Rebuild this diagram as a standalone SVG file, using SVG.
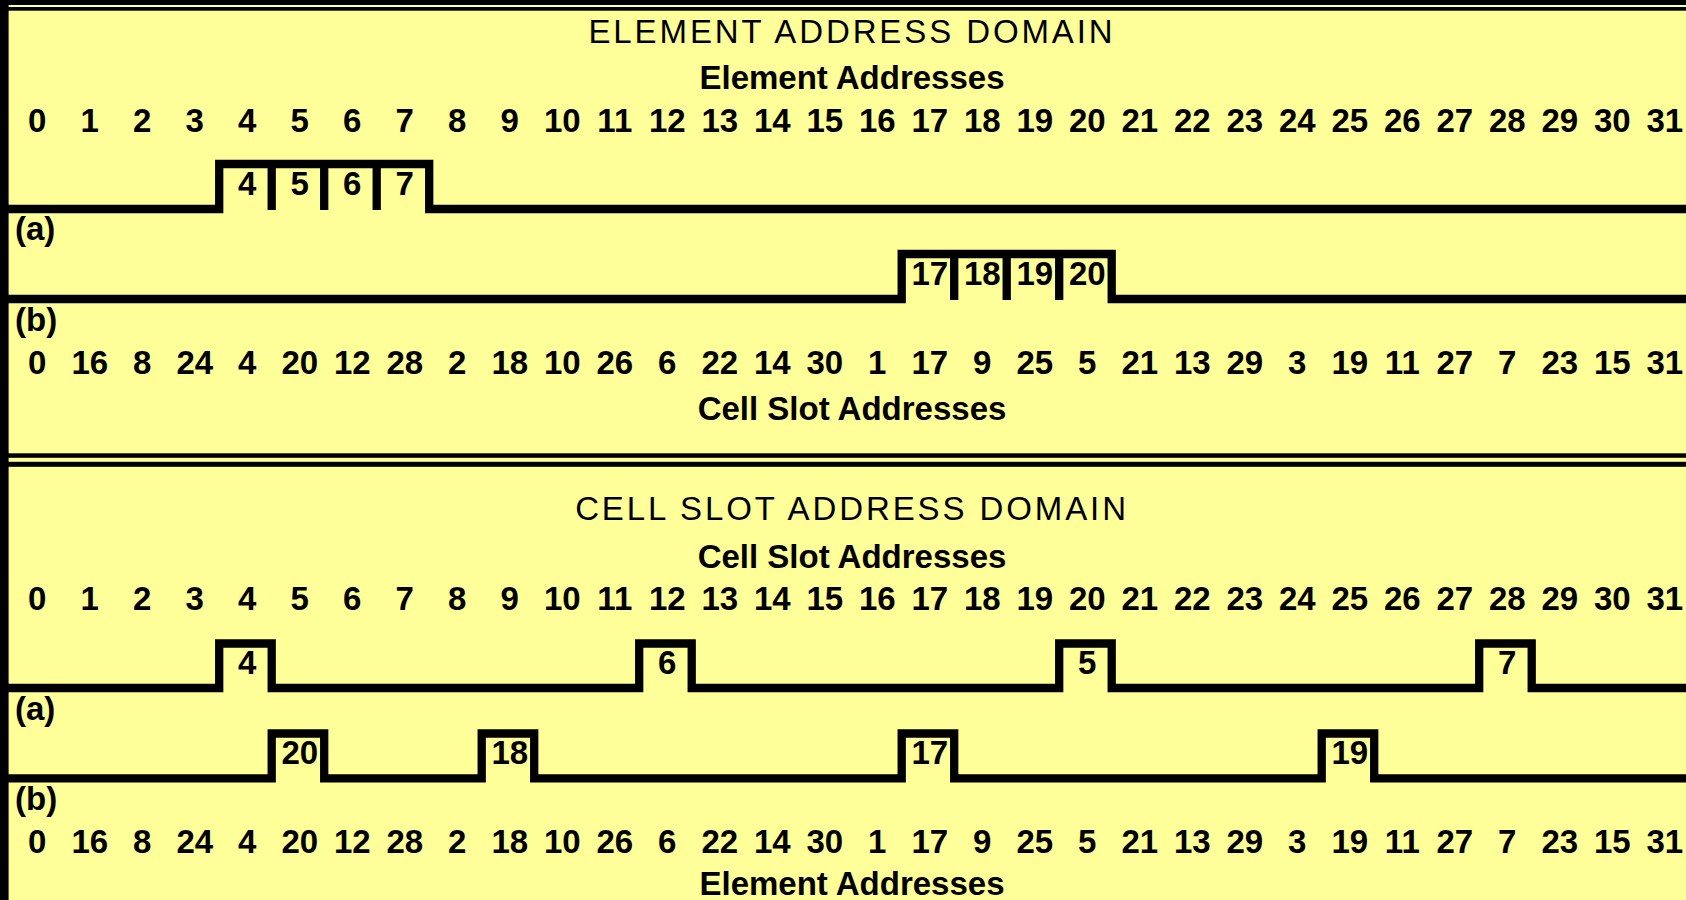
<svg xmlns="http://www.w3.org/2000/svg" width="1686" height="900" viewBox="0 0 1686 900">
<style>
.t{font-family:"Liberation Sans",Arial,sans-serif;font-size:33px;fill:#000}
.b{font-weight:bold}
.m{text-anchor:middle}
.title{font-weight:normal;letter-spacing:2.9px;text-anchor:middle}
.w{fill:none;stroke:#000;stroke-width:8.3;stroke-linejoin:miter;stroke-linecap:butt}
</style>
<rect x="0" y="0" width="1686" height="900" fill="#FFFF99"/>
<g id="frame">
<rect x="0" y="0" width="1686" height="5" fill="#000"/>
<rect x="0" y="7" width="1686" height="3.7" fill="#000"/>
<rect x="0" y="453.3" width="1686" height="4.5" fill="#000"/>
<rect x="0" y="461.8" width="1686" height="5" fill="#000"/>
<rect x="0" y="0" width="8.6" height="900" fill="#000"/>
</g>

<g id="element-domain" class="t">
<text class="t title" x="852" y="43.3">ELEMENT ADDRESS DOMAIN</text>
<text class="t b m" x="852" y="89.3">Element Addresses</text>
<g id="top-element-row" class="t b m">
<text x="37.3" y="132.3">0</text><text x="89.8" y="132.3">1</text><text x="142.3" y="132.3">2</text><text x="194.8" y="132.3">3</text><text x="247.3" y="132.3">4</text><text x="299.8" y="132.3">5</text><text x="352.3" y="132.3">6</text><text x="404.8" y="132.3">7</text><text x="457.3" y="132.3">8</text><text x="509.8" y="132.3">9</text><text x="562.3" y="132.3">10</text><text x="614.8" y="132.3">11</text><text x="667.3" y="132.3">12</text><text x="719.8" y="132.3">13</text><text x="772.3" y="132.3">14</text><text x="824.8" y="132.3">15</text><text x="877.3" y="132.3">16</text><text x="929.8" y="132.3">17</text><text x="982.3" y="132.3">18</text><text x="1034.8" y="132.3">19</text><text x="1087.3" y="132.3">20</text><text x="1139.8" y="132.3">21</text><text x="1192.3" y="132.3">22</text><text x="1244.8" y="132.3">23</text><text x="1297.3" y="132.3">24</text><text x="1349.8" y="132.3">25</text><text x="1402.3" y="132.3">26</text><text x="1454.8" y="132.3">27</text><text x="1507.3" y="132.3">28</text><text x="1559.8" y="132.3">29</text><text x="1612.3" y="132.3">30</text><text x="1664.8" y="132.3">31</text>
</g>
<text class="t b" x="15" y="240">(a)</text>
<text class="t b" x="15" y="331">(b)</text>
<g id="top-slot-row" class="t b m">
<text x="37.3" y="374.3">0</text><text x="89.8" y="374.3">16</text><text x="142.3" y="374.3">8</text><text x="194.8" y="374.3">24</text><text x="247.3" y="374.3">4</text><text x="299.8" y="374.3">20</text><text x="352.3" y="374.3">12</text><text x="404.8" y="374.3">28</text><text x="457.3" y="374.3">2</text><text x="509.8" y="374.3">18</text><text x="562.3" y="374.3">10</text><text x="614.8" y="374.3">26</text><text x="667.3" y="374.3">6</text><text x="719.8" y="374.3">22</text><text x="772.3" y="374.3">14</text><text x="824.8" y="374.3">30</text><text x="877.3" y="374.3">1</text><text x="929.8" y="374.3">17</text><text x="982.3" y="374.3">9</text><text x="1034.8" y="374.3">25</text><text x="1087.3" y="374.3">5</text><text x="1139.8" y="374.3">21</text><text x="1192.3" y="374.3">13</text><text x="1244.8" y="374.3">29</text><text x="1297.3" y="374.3">3</text><text x="1349.8" y="374.3">19</text><text x="1402.3" y="374.3">11</text><text x="1454.8" y="374.3">27</text><text x="1507.3" y="374.3">7</text><text x="1559.8" y="374.3">23</text><text x="1612.3" y="374.3">15</text><text x="1664.8" y="374.3">31</text>
</g>
<text class="t b m" x="852" y="419.5">Cell Slot Addresses</text>
</g>

<g id="connectors">
<polyline class="w" points="8,209 219.2,209 219.2,164 429.2,164 429.2,209 1690,209"/>
<path class="w" d="M271.7,164V210M324.2,164V210M376.7,164V210"/>
<polyline class="w" points="8,299 901.7,299 901.7,254 1111.7,254 1111.7,299 1690,299"/>
<path class="w" d="M954.2,254V300M1006.7,254V300M1059.2,254V300"/>
<polyline class="w" points="8,688 219.2,688 219.2,643.5 271.7,643.5 271.7,688 639.2,688 639.2,643.5 691.7,643.5 691.7,688 1059.2,688 1059.2,643.5 1111.7,643.5 1111.7,688 1479.2,688 1479.2,643.5 1531.7,643.5 1531.7,688 1690,688"/>
<polyline class="w" points="8,778.3 271.7,778.3 271.7,733.5 324.2,733.5 324.2,778.3 481.7,778.3 481.7,733.5 534.2,733.5 534.2,778.3 901.7,778.3 901.7,733.5 954.2,733.5 954.2,778.3 1321.7,778.3 1321.7,733.5 1374.2,733.5 1374.2,778.3 1690,778.3"/>
</g>

<g id="box-top-a" class="t b m">
<text x="247.3" y="195">4</text><text x="299.8" y="195">5</text><text x="352.3" y="195">6</text><text x="404.8" y="195">7</text>
</g>
<g id="box-top-b" class="t b m">
<text x="929.8" y="285">17</text><text x="982.3" y="285">18</text><text x="1034.8" y="285">19</text><text x="1087.3" y="285">20</text>
</g>

<g id="slot-domain" class="t">
<text class="t title" x="852" y="519.8">CELL SLOT ADDRESS DOMAIN</text>
<text class="t b m" x="852" y="567.5">Cell Slot Addresses</text>
<g id="bottom-slot-row" class="t b m">
<text x="37.3" y="610">0</text><text x="89.8" y="610">1</text><text x="142.3" y="610">2</text><text x="194.8" y="610">3</text><text x="247.3" y="610">4</text><text x="299.8" y="610">5</text><text x="352.3" y="610">6</text><text x="404.8" y="610">7</text><text x="457.3" y="610">8</text><text x="509.8" y="610">9</text><text x="562.3" y="610">10</text><text x="614.8" y="610">11</text><text x="667.3" y="610">12</text><text x="719.8" y="610">13</text><text x="772.3" y="610">14</text><text x="824.8" y="610">15</text><text x="877.3" y="610">16</text><text x="929.8" y="610">17</text><text x="982.3" y="610">18</text><text x="1034.8" y="610">19</text><text x="1087.3" y="610">20</text><text x="1139.8" y="610">21</text><text x="1192.3" y="610">22</text><text x="1244.8" y="610">23</text><text x="1297.3" y="610">24</text><text x="1349.8" y="610">25</text><text x="1402.3" y="610">26</text><text x="1454.8" y="610">27</text><text x="1507.3" y="610">28</text><text x="1559.8" y="610">29</text><text x="1612.3" y="610">30</text><text x="1664.8" y="610">31</text>
</g>
<text class="t b" x="15" y="720">(a)</text>
<text class="t b" x="15" y="810">(b)</text>
<g id="bottom-element-row" class="t b m">
<text x="37.3" y="853.3">0</text><text x="89.8" y="853.3">16</text><text x="142.3" y="853.3">8</text><text x="194.8" y="853.3">24</text><text x="247.3" y="853.3">4</text><text x="299.8" y="853.3">20</text><text x="352.3" y="853.3">12</text><text x="404.8" y="853.3">28</text><text x="457.3" y="853.3">2</text><text x="509.8" y="853.3">18</text><text x="562.3" y="853.3">10</text><text x="614.8" y="853.3">26</text><text x="667.3" y="853.3">6</text><text x="719.8" y="853.3">22</text><text x="772.3" y="853.3">14</text><text x="824.8" y="853.3">30</text><text x="877.3" y="853.3">1</text><text x="929.8" y="853.3">17</text><text x="982.3" y="853.3">9</text><text x="1034.8" y="853.3">25</text><text x="1087.3" y="853.3">5</text><text x="1139.8" y="853.3">21</text><text x="1192.3" y="853.3">13</text><text x="1244.8" y="853.3">29</text><text x="1297.3" y="853.3">3</text><text x="1349.8" y="853.3">19</text><text x="1402.3" y="853.3">11</text><text x="1454.8" y="853.3">27</text><text x="1507.3" y="853.3">7</text><text x="1559.8" y="853.3">23</text><text x="1612.3" y="853.3">15</text><text x="1664.8" y="853.3">31</text>
</g>
<text class="t b m" x="852" y="895">Element Addresses</text>
</g>

<g id="box-bottom-a" class="t b m">
<text x="247.3" y="674">4</text><text x="667.3" y="674">6</text><text x="1087.3" y="674">5</text><text x="1507.3" y="674">7</text>
</g>
<g id="box-bottom-b" class="t b m">
<text x="299.8" y="764">20</text><text x="509.8" y="764">18</text><text x="929.8" y="764">17</text><text x="1349.8" y="764">19</text>
</g>
</svg>
